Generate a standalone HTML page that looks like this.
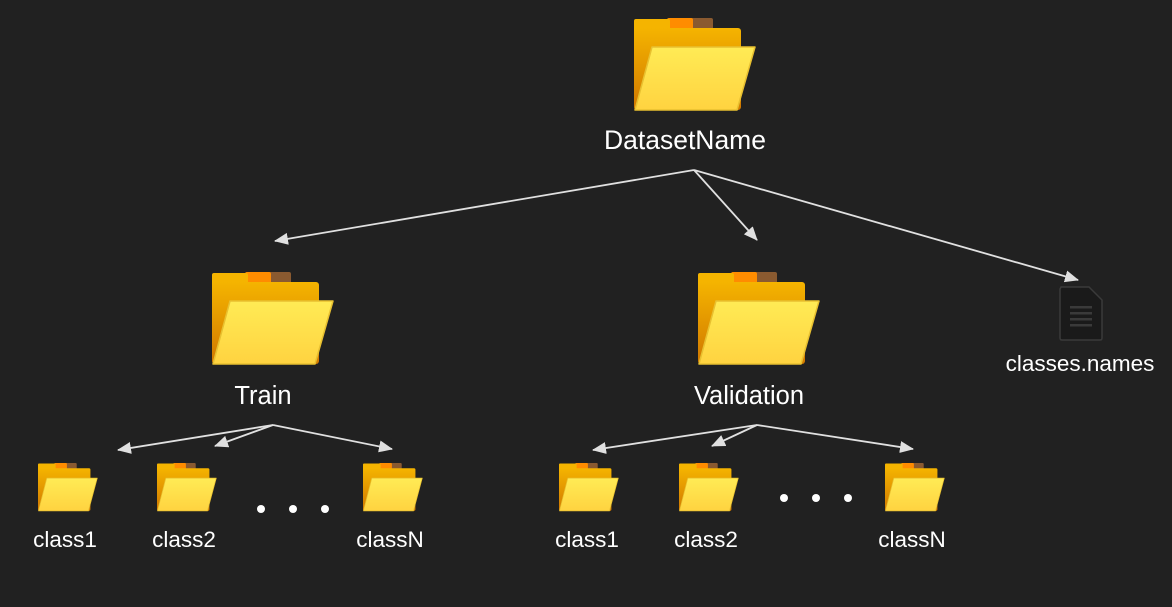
<!DOCTYPE html>
<html><head><style>
body{margin:0;background:#212121;width:1172px;height:602px;overflow:hidden;font-family:"Liberation Sans",sans-serif;}
</style></head><body>
<svg width="1172" height="602" viewBox="0 0 1172 602" xmlns="http://www.w3.org/2000/svg">
<defs>
<linearGradient id="bk" x1="0" y1="0" x2="0" y2="1"><stop offset="0" stop-color="#f5b400"/><stop offset="1" stop-color="#d07800"/></linearGradient>
<linearGradient id="fr" x1="0" y1="0" x2="0" y2="1"><stop offset="0" stop-color="#ffeb55"/><stop offset="1" stop-color="#ffd340"/></linearGradient>
<g id="f">
<rect x="56" y="0" width="23" height="12" rx="2" fill="#8a5a30"/>
<rect x="33" y="0" width="26" height="12" rx="2" fill="#ff8c00"/>
<rect x="0" y="1" width="36" height="14" rx="2" fill="#f5b400"/>
<rect x="0" y="10" width="107" height="82" rx="3" fill="url(#bk)"/>
<path d="M18 29 L121 29 L103 92 L1 92 Z" fill="url(#fr)" stroke="#e8c030" stroke-width="1.5" stroke-linejoin="round"/>
</g>
<marker id="a" markerWidth="14" markerHeight="12" refX="13" refY="6" orient="auto" markerUnits="userSpaceOnUse"><path d="M0,0 L14,6 L0,12 Z" fill="#e0e0e0"/></marker>
</defs>
<use href="#f" transform="translate(634,18)"/>
<use href="#f" transform="translate(212,272)"/>
<use href="#f" transform="translate(698,272)"/>
<use href="#f" transform="translate(38,463) scale(0.49,0.52)"/>
<use href="#f" transform="translate(157,463) scale(0.49,0.52)"/>
<use href="#f" transform="translate(363,463) scale(0.49,0.52)"/>
<use href="#f" transform="translate(559,463) scale(0.49,0.52)"/>
<use href="#f" transform="translate(679,463) scale(0.49,0.52)"/>
<use href="#f" transform="translate(885,463) scale(0.49,0.52)"/>
<g stroke="#e0e0e0" stroke-width="1.8" fill="none" marker-end="url(#a)">
<line x1="694" y1="170" x2="275" y2="241"/>
<line x1="694" y1="170" x2="757" y2="240"/>
<line x1="694" y1="170" x2="1078" y2="280"/>
<line x1="273" y1="425" x2="118" y2="450"/>
<line x1="273" y1="425" x2="215" y2="446"/>
<line x1="273" y1="425" x2="392" y2="449"/>
<line x1="757" y1="425" x2="593" y2="450"/>
<line x1="757" y1="425" x2="712" y2="446"/>
<line x1="757" y1="425" x2="913" y2="449"/>
</g>
<path d="M1061 287 L1089 287 L1102 300 L1102 338 Q1102 340 1100 340 L1062 340 Q1060 340 1060 338 L1060 289 Z" fill="#1a1a1a" stroke="#3a3a3a" stroke-width="1.5"/>
<g fill="#3a3a3a"><rect x="1070" y="306" width="22" height="2.5"/><rect x="1070" y="312" width="22" height="2.5"/><rect x="1070" y="318" width="22" height="2.5"/><rect x="1070" y="324" width="22" height="2.5"/></g>
<g fill="#fff">
<circle cx="261" cy="509" r="4"/><circle cx="293" cy="509" r="4"/><circle cx="325" cy="509" r="4"/>
<circle cx="784" cy="498" r="4"/><circle cx="816" cy="498" r="4"/><circle cx="848" cy="498" r="4"/>
</g>
<g fill="#fff" text-anchor="middle" font-family="Liberation Sans, sans-serif">
<text x="685" y="149" font-size="26.5">DatasetName</text>
<text x="263" y="404" font-size="25.5">Train</text>
<text x="749" y="404" font-size="25.5">Validation</text>
<text x="1080" y="371" font-size="22.5">classes.names</text>
<text x="65" y="547" font-size="22.5">class1</text>
<text x="184" y="547" font-size="22.5">class2</text>
<text x="390" y="547" font-size="22.5">classN</text>
<text x="587" y="547" font-size="22.5">class1</text>
<text x="706" y="547" font-size="22.5">class2</text>
<text x="912" y="547" font-size="22.5">classN</text>
</g>
</svg>
</body></html>
